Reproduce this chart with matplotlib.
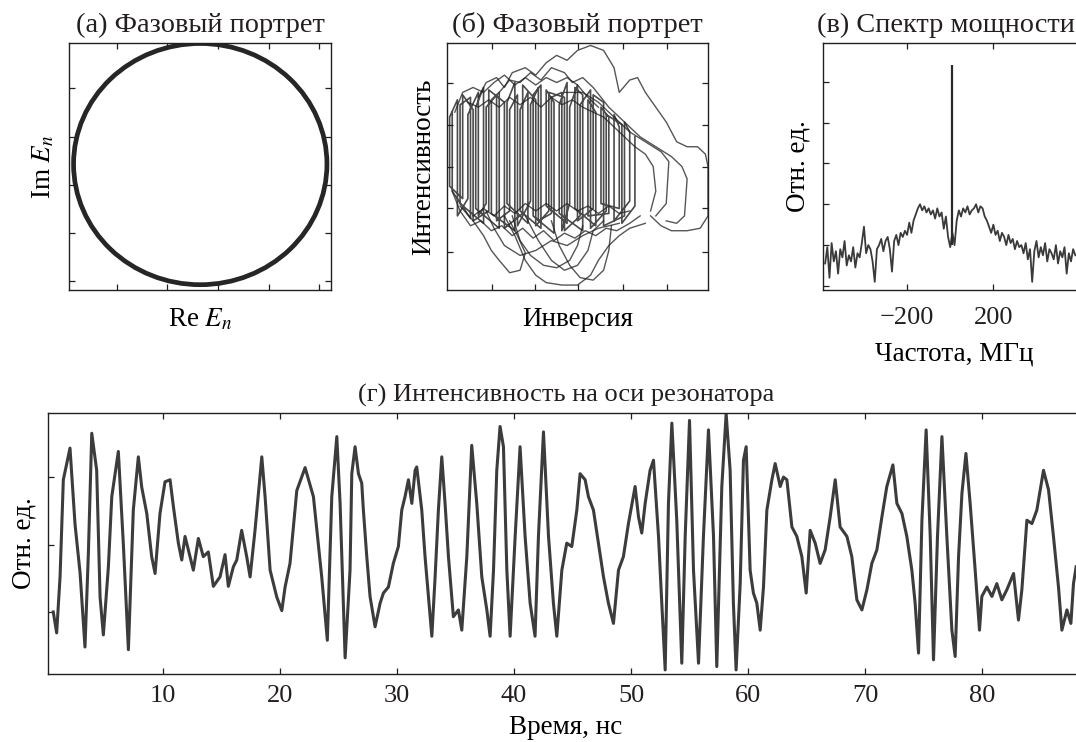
import numpy as np
import matplotlib
matplotlib.use("Agg")
import matplotlib.pyplot as plt
from matplotlib.patches import Circle

plt.rcParams['font.family'] = ['Liberation Serif', 'DejaVu Serif']
plt.rcParams['mathtext.fontset'] = 'stix'
plt.rcParams['font.size'] = 17
plt.rcParams['text.color'] = '#231f20'
plt.rcParams['axes.edgecolor'] = '#231f20'

# (а) limit cycle in the complex field plane
cycle_center = (-0.35, 0.43)
cycle_radius = 2.5

# (б) phase portrait (axis fractions): vertical strokes at fixed inversion
stroke_x = [0.02, 0.09, 0.05, 0.14, 0.11, 0.20, 0.17, 0.26, 0.23, 0.31,
            0.28, 0.36, 0.33, 0.41, 0.38, 0.46, 0.43, 0.52, 0.49, 0.57,
            0.54, 0.62, 0.59, 0.66, 0.64, 0.70, 0.68, 0.60, 0.56, 0.50,
            0.47, 0.44, 0.40, 0.35, 0.32, 0.27, 0.24, 0.19, 0.15, 0.12,
            0.08, 0.04, 0.01, 0.06, 0.10, 0.16, 0.22, 0.29, 0.34, 0.39,
            0.45, 0.51, 0.55, 0.61, 0.67, 0.72]
stroke_hi = [0.72, 0.78, 0.75, 0.82, 0.74, 0.80, 0.77, 0.84, 0.76, 0.80,
             0.73, 0.83, 0.79, 0.76, 0.81, 0.84, 0.75, 0.79, 0.82, 0.72,
             0.77, 0.70, 0.74, 0.66, 0.71, 0.64, 0.68, 0.76, 0.79, 0.83,
             0.74, 0.80, 0.78, 0.82, 0.75, 0.79, 0.73, 0.79, 0.74, 0.80,
             0.71, 0.77, 0.70, 0.79, 0.73, 0.81, 0.76, 0.83, 0.77, 0.80,
             0.78, 0.75, 0.81, 0.71, 0.67, 0.62]
stroke_lo = [0.40, 0.29, 0.35, 0.27, 0.33, 0.25, 0.31, 0.24, 0.35, 0.27,
             0.32, 0.25, 0.30, 0.23, 0.34, 0.27, 0.31, 0.24, 0.33, 0.26,
             0.30, 0.31, 0.35, 0.33, 0.28, 0.36, 0.30, 0.26, 0.33, 0.28,
             0.35, 0.24, 0.31, 0.28, 0.36, 0.26, 0.32, 0.28, 0.35, 0.30,
             0.37, 0.30, 0.42, 0.37, 0.28, 0.32, 0.25, 0.31, 0.26, 0.32,
             0.24, 0.30, 0.25, 0.32, 0.27, 0.34]
# excursions above and below the main band, (inversion, intensity)
arc_top_1 = [(0.12, 0.78), (0.15, 0.84), (0.19, 0.86), (0.22, 0.82), (0.25, 0.88),
             (0.30, 0.90), (0.34, 0.87), (0.38, 0.92), (0.42, 0.95), (0.46, 0.93),
             (0.50, 0.97), (0.55, 0.99), (0.60, 0.97), (0.64, 0.90), (0.66, 0.80),
             (0.70, 0.85), (0.73, 0.86), (0.76, 0.80), (0.80, 0.74), (0.84, 0.68),
             (0.88, 0.60), (0.92, 0.58), (0.96, 0.58), (0.99, 0.55), (1.00, 0.50),
             (1.00, 0.30), (0.97, 0.25), (0.92, 0.24), (0.86, 0.24), (0.82, 0.26),
             (0.78, 0.30)]
arc_top_2 = [(0.20, 0.80), (0.24, 0.85), (0.28, 0.84), (0.32, 0.88), (0.36, 0.85),
             (0.40, 0.90), (0.45, 0.88), (0.48, 0.84), (0.52, 0.86), (0.56, 0.82),
             (0.62, 0.74), (0.68, 0.68), (0.74, 0.62), (0.80, 0.58), (0.86, 0.54),
             (0.90, 0.50), (0.92, 0.45), (0.91, 0.30), (0.88, 0.27), (0.84, 0.28)]
arc_top_3 = [(0.45, 0.80), (0.52, 0.80), (0.58, 0.76), (0.64, 0.70), (0.70, 0.64),
             (0.76, 0.60), (0.82, 0.56), (0.85, 0.52), (0.84, 0.35), (0.80, 0.30)]
arc_top_4 = [(0.03, 0.72), (0.06, 0.80), (0.10, 0.82), (0.14, 0.80), (0.18, 0.84),
             (0.22, 0.87), (0.26, 0.83), (0.30, 0.86), (0.34, 0.83), (0.38, 0.86),
             (0.42, 0.84), (0.46, 0.86), (0.50, 0.83), (0.54, 0.78), (0.58, 0.74)]
arc_top_5 = [(0.08, 0.76), (0.12, 0.74), (0.16, 0.77), (0.20, 0.74), (0.24, 0.78),
             (0.28, 0.75), (0.32, 0.78), (0.36, 0.74), (0.40, 0.78), (0.44, 0.75),
             (0.48, 0.77), (0.52, 0.74), (0.56, 0.72), (0.60, 0.70), (0.64, 0.66),
             (0.68, 0.62), (0.72, 0.58), (0.76, 0.55), (0.79, 0.50), (0.80, 0.40),
             (0.78, 0.32)]
arc_bot_1 = [(0.05, 0.34), (0.10, 0.28), (0.14, 0.22), (0.17, 0.16), (0.20, 0.12),
             (0.24, 0.07), (0.28, 0.08), (0.30, 0.15), (0.27, 0.22), (0.24, 0.28)]
arc_bot_2 = [(0.22, 0.30), (0.26, 0.22), (0.30, 0.12), (0.34, 0.06), (0.38, 0.03),
             (0.44, 0.02), (0.50, 0.02), (0.55, 0.06), (0.58, 0.12), (0.62, 0.18),
             (0.66, 0.22), (0.70, 0.25), (0.76, 0.27)]
arc_bot_3 = [(0.30, 0.30), (0.35, 0.20), (0.40, 0.12), (0.45, 0.08), (0.50, 0.10),
             (0.54, 0.16), (0.56, 0.24), (0.60, 0.28)]
arc_bot_4 = [(0.15, 0.32), (0.18, 0.25), (0.22, 0.18), (0.28, 0.14), (0.34, 0.16),
             (0.40, 0.20), (0.46, 0.18), (0.52, 0.22), (0.58, 0.25), (0.66, 0.27)]
arc_bot_5 = [(0.02, 0.40), (0.05, 0.32), (0.09, 0.26), (0.13, 0.28), (0.17, 0.24),
             (0.21, 0.26), (0.25, 0.22), (0.29, 0.25), (0.33, 0.21), (0.37, 0.24),
             (0.41, 0.20), (0.45, 0.23), (0.49, 0.21), (0.53, 0.24), (0.57, 0.22),
             (0.61, 0.25), (0.65, 0.24), (0.70, 0.27), (0.74, 0.30)]
arc_bot_6 = [(0.10, 0.30), (0.14, 0.33), (0.18, 0.30), (0.22, 0.34), (0.26, 0.31),
             (0.30, 0.35), (0.34, 0.32), (0.38, 0.35), (0.42, 0.32), (0.46, 0.35),
             (0.50, 0.32), (0.54, 0.34), (0.58, 0.31), (0.62, 0.34), (0.66, 0.31),
             (0.70, 0.32)]
arc_bot_7 = [(0.25, 0.30), (0.28, 0.20), (0.32, 0.14), (0.37, 0.10), (0.42, 0.09),
             (0.47, 0.12), (0.50, 0.18), (0.52, 0.26)]
arc_bot_8 = [(0.40, 0.28), (0.43, 0.18), (0.47, 0.10), (0.51, 0.05), (0.56, 0.04),
             (0.60, 0.08), (0.62, 0.16), (0.63, 0.26)]

# (в) power spectrum, MHz grid from -580 to 580 step 10
spec_f0, spec_df = -580, 10
spectrum = [0.55, 0.95, 0.20, 1.05, 0.60, 0.85, 0.30, 0.90, 0.70, 1.10,
            0.50, 0.75, 0.60, 0.95, 0.45, 0.80, 0.70, 1.05, 1.45, 0.80,
            1.00, 0.90, 0.60, 0.10, 0.90, 1.00, 1.15, 0.85, 1.10, 1.20,
            0.90, 0.35, 1.10, 1.25, 1.00, 1.30, 1.20, 1.35, 1.25, 1.55,
            1.30, 1.60, 1.75, 1.90, 2.00, 1.85, 1.95, 1.80, 1.90, 1.75,
            1.85, 1.65, 1.90, 1.70, 1.80, 1.40, 1.70, 1.20, 0.95, 1.30,
            1.00, 1.60, 1.85, 1.70, 1.90, 1.80, 1.95, 1.75, 1.85, 1.90,
            2.00, 1.80, 1.95, 1.90, 1.70, 1.60, 1.45, 1.30, 1.50, 1.25,
            1.35, 1.10, 1.30, 1.20, 1.00, 1.25, 1.05, 1.15, 0.90, 1.10,
            0.95, 1.00, 0.80, 1.05, 0.65, 0.90, 0.10, 0.85, 1.10, 0.70,
            0.95, 0.75, 1.05, 0.60, 0.90, 0.80, 0.65, 1.00, 0.55, 0.85,
            0.70, 0.95, 0.30, 0.80, 0.60, 0.90, 0.75]
spike_freq = 10
spike_base, spike_top = 1.0, 5.4

# (г) on-axis intensity vs time
time_ns = [0.62, 0.91, 1.20, 1.48, 2.05, 2.48, 2.91, 3.33, 3.62, 3.91,
           4.33, 4.62, 4.90, 5.33, 5.62, 6.18, 6.61, 7.04, 7.46, 7.89,
           8.18, 8.61, 9.03, 9.32, 9.74, 10.17, 10.60, 10.88, 11.31, 11.60,
           11.88, 12.31, 12.59, 13.02, 13.44, 13.87, 14.30, 14.87, 15.30, 15.58,
           16.01, 16.30, 16.72, 17.15, 17.44, 17.86, 18.44, 18.72, 19.15, 19.72,
           20.15, 20.43, 20.85, 21.43, 22.14, 22.85, 23.56, 24.04, 24.42, 24.85,
           25.13, 25.56, 25.98, 26.13, 26.41, 26.70, 26.98, 27.12, 27.41, 27.69,
           28.12, 28.55, 28.83, 29.26, 29.68, 30.11, 30.40, 30.68, 30.97, 31.26,
           31.54, 31.68, 32.11, 32.39, 32.68, 32.97, 33.25, 33.53, 33.82, 34.10,
           34.39, 34.81, 35.24, 35.53, 35.96, 36.38, 36.81, 37.24, 37.67, 37.95,
           38.24, 38.52, 38.80, 39.09, 39.38, 39.66, 40.09, 40.51, 40.94, 41.37,
           41.79, 42.08, 42.51, 42.94, 43.36, 43.65, 44.08, 44.50, 44.93, 45.36,
           45.64, 46.07, 46.35, 46.78, 47.21, 47.64, 48.06, 48.49, 48.92, 49.34,
           49.77, 50.34, 50.63, 50.91, 51.20, 51.62, 51.91, 52.34, 52.62, 52.91,
           53.19, 53.48, 53.90, 54.33, 54.62, 54.99, 55.33, 55.76, 56.18, 56.61,
           57.04, 57.32, 57.75, 58.12, 58.46, 58.74, 58.97, 59.32, 59.60, 59.83,
           60.17, 60.45, 60.74, 61.03, 61.31, 61.60, 62.03, 62.31, 62.74, 63.02,
           63.31, 63.74, 64.16, 64.59, 64.96, 65.30, 65.73, 66.15, 66.58, 67.01,
           67.44, 67.86, 68.44, 68.86, 69.29, 69.72, 70.15, 70.57, 71.00, 71.43,
           71.85, 72.37, 72.71, 73.14, 73.56, 73.99, 74.27, 74.56, 74.85, 75.21,
           75.56, 75.84, 76.18, 76.56, 76.98, 77.41, 77.69, 77.98, 78.27, 78.61,
           78.97, 79.40, 79.77, 79.97, 80.40, 80.83, 81.25, 81.68, 82.11, 82.68,
           83.10, 83.39, 83.82, 84.25, 84.67, 85.24, 85.67, 86.09, 86.52, 86.81,
           87.24, 87.58, 87.80, 88.03]
intensity_t = [1.00, 0.69, 1.52, 2.96, 3.43, 2.30, 1.58, 0.48, 1.87, 3.65,
               3.10, 1.22, 0.66, 1.67, 2.71, 3.38, 2.00, 0.44, 2.51, 3.30,
               2.85, 2.46, 1.82, 1.57, 2.46, 2.93, 2.96, 2.57, 2.02, 1.77,
               2.12, 1.82, 1.62, 2.09, 1.82, 1.89, 1.38, 1.52, 1.85, 1.38,
               1.67, 1.77, 2.21, 1.82, 1.52, 2.21, 3.30, 2.71, 1.62, 1.22,
               1.02, 1.37, 1.72, 2.80, 3.14, 2.71, 1.52, 0.58, 2.71, 3.60,
               2.61, 0.32, 1.62, 3.05, 3.45, 3.05, 2.91, 2.51, 1.82, 1.23,
               0.78, 1.13, 1.28, 1.37, 1.72, 1.97, 2.51, 2.71, 2.96, 2.61,
               3.10, 3.15, 2.51, 1.82, 1.23, 0.64, 1.52, 2.51, 3.30, 2.61,
               1.82, 0.93, 1.03, 0.73, 1.82, 3.47, 2.61, 1.52, 1.03, 0.64,
               1.62, 3.10, 3.75, 3.45, 1.62, 0.64, 2.12, 3.45, 2.12, 1.13,
               0.64, 2.12, 3.67, 2.12, 1.13, 0.64, 1.62, 2.02, 1.97, 2.51,
               3.05, 2.96, 2.71, 2.51, 2.02, 1.52, 1.13, 0.83, 1.62, 1.82,
               2.31, 2.86, 2.41, 2.17, 2.61, 3.10, 3.25, 2.12, 1.13, 0.14,
               2.61, 3.80, 2.36, 0.24, 2.12, 3.84, 1.62, 0.24, 2.12, 3.70,
               2.12, 0.19, 2.86, 3.94, 3.10, 1.13, 0.14, 1.42, 3.25, 3.45,
               1.62, 1.28, 1.13, 0.73, 1.37, 2.51, 2.96, 3.20, 2.86, 3.00,
               2.96, 2.26, 2.12, 1.82, 1.28, 2.21, 2.02, 1.72, 1.92, 2.41,
               2.96, 2.26, 2.12, 1.82, 1.18, 1.03, 1.33, 1.72, 1.92, 2.41,
               2.86, 3.18, 2.61, 2.46, 2.12, 1.62, 1.13, 0.39, 2.36, 3.70,
               2.12, 0.29, 2.12, 3.60, 2.12, 0.73, 0.34, 1.82, 2.76, 3.35,
               2.61, 1.62, 0.73, 1.23, 1.37, 1.23, 1.42, 1.18, 1.33, 1.57,
               0.88, 1.33, 2.36, 2.31, 2.51, 3.10, 2.81, 2.12, 1.37, 0.73,
               1.03, 0.83, 1.42, 1.67]

titles = ["(а) Фазовый портрет", "(б) Фазовый портрет", "(в) Спектр мощности",
          "(г) Интенсивность на оси резонатора"]
ink = '#231f20'
W, H = 1076, 742
TITLE_FS = 20.4
LABEL_FS = 19.5
TICK_FS = 19


def style(ax, labels=True, pad=7):
    ax.tick_params(direction='in', top=True, right=True, length=4.5, width=0.9,
                   colors=ink, labelsize=TICK_FS, pad=pad,
                   labelbottom=labels, labelleft=False)
    for s in ax.spines.values():
        s.set_linewidth(1.0)


fig = plt.figure(figsize=(W / 100, H / 100), dpi=100)

# (а)
ax1 = fig.add_axes([69 / W, 1 - 290 / H, 262 / W, 247 / H])
ax1.add_patch(Circle(cycle_center, cycle_radius, fill=False, lw=3.4, ec='#262626'))
ax1.set_xlim(-2.94, 2.23)
ax1.set_ylim(-2.18, 2.94)
ax1.set_xticks([-2, -1, 0, 1, 2])
ax1.set_yticks([-2, -1, 0, 1, 2])
style(ax1, labels=False)
ax1.set_title(titles[0], pad=8, fontsize=TITLE_FS)
ax1.set_xlabel("Re $E_n$", fontsize=LABEL_FS, labelpad=12)
ax1.set_ylabel("Im $E_n$", fontsize=LABEL_FS, labelpad=9)

# (б)
ax2 = fig.add_axes([447 / W, 1 - 290 / H, 261 / W, 247 / H])
path_x, path_y = [], []
for i, (x, hi, lo) in enumerate(zip(stroke_x, stroke_hi, stroke_lo)):
    path_x += [x, x]
    path_y += [hi, lo] if i % 2 == 0 else [lo, hi]
ax2.plot(path_x, path_y, color='#1e1e1e', lw=1.2, alpha=0.8)
for arc in [arc_top_1, arc_top_2, arc_top_3, arc_top_4, arc_top_5,
            arc_bot_1, arc_bot_2, arc_bot_3, arc_bot_4, arc_bot_5, arc_bot_6,
            arc_bot_7, arc_bot_8]:
    ax2.plot([p[0] for p in arc], [p[1] for p in arc], color='#1e1e1e', lw=1.0, alpha=0.75)
ax2.set_xlim(0, 1)
ax2.set_ylim(0, 1)
ax2.set_xticks([0.172, 0.337, 0.502, 0.674, 0.843])
ax2.set_yticks([0.154, 0.332, 0.498, 0.668, 0.838])
style(ax2, labels=False)
ax2.set_title(titles[1], pad=8, fontsize=TITLE_FS)
ax2.set_xlabel("Инверсия", fontsize=LABEL_FS, labelpad=12)
ax2.set_ylabel("Интенсивность", fontsize=LABEL_FS, labelpad=8)

# (в)
ax3 = fig.add_axes([823 / W, 1 - 290 / H, 262 / W, 247 / H])
freqs = spec_f0 + spec_df * np.arange(len(spectrum))
ax3.plot(freqs, spectrum, color='#3a3a3a', lw=1.3)
ax3.vlines(spike_freq, spike_base, spike_top, color='#2a2a2a', lw=1.6)
ax3.set_xlim(-590, 625)
ax3.set_ylim(-0.1, 5.95)
ax3.set_xticks([-200, 200])
ax3.set_yticks([0, 1, 2, 3, 4, 5])
style(ax3, pad=12)
ax3.set_title(titles[2], pad=8, x=0.47, fontsize=TITLE_FS)
ax3.set_xlabel("Частота, МГц", fontsize=LABEL_FS, labelpad=9)
ax3.set_ylabel("Отн. ед.", fontsize=LABEL_FS, labelpad=9)

# (г)
ax4 = fig.add_axes([48 / W, 1 - 674 / H, 1036 / W, 261 / H])
ax4.plot(time_ns, intensity_t, color='#3c3c3c', lw=2.2)
ax4.set_xlim(0.17, 88.7)
ax4.set_ylim(0.08, 3.95)
ax4.set_xticks([10, 20, 30, 40, 50, 60, 70, 80])
ax4.set_yticks([1, 2, 3])
style(ax4, pad=8)
ax4.set_title(titles[3], pad=8, fontsize=19)
ax4.set_xlabel("Время, нс", fontsize=LABEL_FS, labelpad=6)
ax4.set_ylabel("Отн. ед.", fontsize=LABEL_FS, labelpad=8)

fig.savefig("out.png", dpi=100)
